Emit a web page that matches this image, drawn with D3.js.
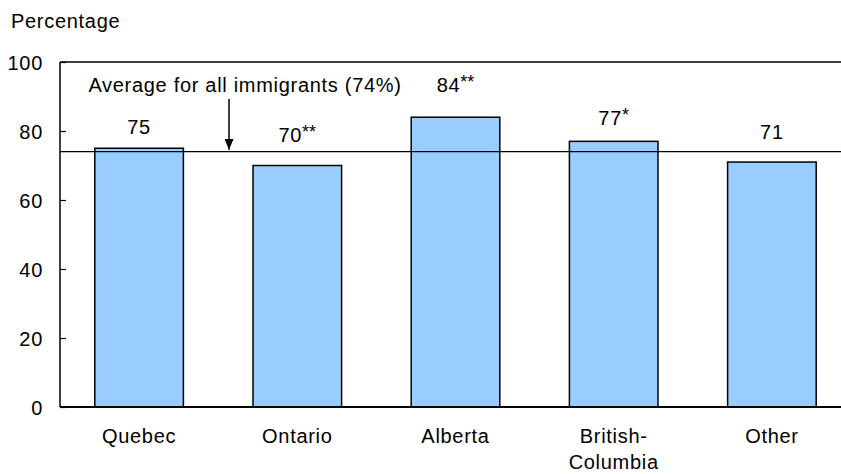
<!DOCTYPE html>
<html><head><meta charset="utf-8">
<script src="https://cdn.jsdelivr.net/npm/d3@7"></script>
<style>body{margin:0;background:#fff}svg{display:block;font-family:"Liberation Sans",Arial,sans-serif;letter-spacing:0.7px}</style>
</head><body>
<svg id="c" width="841" height="474"></svg>
<script>
const categories = [["Quebec"],["Ontario"],["Alberta"],["British-","Columbia"],["Other"]];
const values = [75, 70, 84, 77, 71];
const marks = ["", "**", "**", "*", ""];
const average = 74;
const averageLabel = "Average for all immigrants (74%)";
const yTicks = [0, 20, 40, 60, 80, 100];

(function(){
const svg = d3.select("#c");
const mL = 60, mT = 62, mB = 407, mR = 851;
const FS = 20;
const labelGap = [14, 24, 25, 16, 23]; // layout: vertical gap of each value label above its bar
const x = d3.scaleBand().domain(d3.range(categories.length)).range([mL, mR]).paddingInner(0.44).paddingOuter(0.22);
const y = d3.scaleLinear().domain([0, 100]).range([mB, mT]);

svg.append("text").attr("x", 11).attr("y", 28).attr("font-size", FS).text("Percentage");

// top border
svg.append("line").attr("x1", mL).attr("x2", 841).attr("y1", y(100)).attr("y2", y(100)).attr("stroke", "#000").attr("stroke-width", 1.5);

// bars
svg.selectAll("rect.bar").data(values).join("rect").attr("class", "bar")
  .attr("x", (d, i) => x(i)).attr("width", x.bandwidth())
  .attr("y", d => y(d)).attr("height", d => y(0) - y(d))
  .attr("fill", "#99CCFF").attr("stroke", "#000").attr("stroke-width", 1.5);

// average line
svg.append("line").attr("x1", mL).attr("x2", 841).attr("y1", y(average)).attr("y2", y(average)).attr("stroke", "#000").attr("stroke-width", 1.3);

// y axis
const ya = svg.append("g").attr("transform", `translate(${mL},0)`)
  .call(d3.axisLeft(y).tickValues(yTicks).tickSize(-6).tickPadding(17).tickFormat(d3.format("d")));
ya.select(".domain").attr("stroke-width", 1.5).attr("d", `M0,${mB}V${mT}`);
ya.selectAll("text").attr("font-size", FS).attr("font-family", "Liberation Sans, Arial, sans-serif").attr("fill", "#000").attr("dy", "0.35em");
ya.selectAll(".tick line").attr("stroke-width", 1.2);

// x axis
svg.append("line").attr("x1", mL).attr("x2", 841).attr("y1", mB).attr("y2", mB).attr("stroke", "#000").attr("stroke-width", 2);
const xl = svg.selectAll("text.xl").data(categories).join("text").attr("class", "xl")
  .attr("x", (d, i) => x(i) + x.bandwidth() / 2).attr("y", 443).attr("text-anchor", "middle").attr("font-size", FS);
xl.selectAll("tspan").data(d => d).join("tspan")
  .attr("x", function(){ return this.parentNode.getAttribute("x"); })
  .attr("dy", (d, j) => j === 0 ? 0 : 26).text(d => d);

// value labels
const vl = svg.selectAll("text.vl").data(values).join("text").attr("class", "vl")
  .attr("x", (d, i) => x(i) + x.bandwidth() / 2)
  .attr("y", (d, i) => y(d) - labelGap[i]).attr("text-anchor", "middle").attr("font-size", FS);
vl.append("tspan").text(d => d);
vl.append("tspan").attr("font-size", 18).attr("dy", -4).attr("letter-spacing", "0px").text((d, i) => marks[i]);

// annotation
svg.append("text").attr("x", 245).attr("y", 92).attr("text-anchor", "middle").attr("font-size", FS).text(averageLabel);
svg.append("defs").append("marker").attr("id", "ah").attr("viewBox", "0 0 10 12").attr("refX", 5).attr("refY", 12)
  .attr("markerUnits", "userSpaceOnUse").attr("markerWidth", 9).attr("markerHeight", 12).attr("orient", "0")
  .append("path").attr("d", "M0,0L5,12L10,0Z").attr("fill", "#000");
svg.append("line").attr("x1", 229).attr("x2", 229).attr("y1", 99).attr("y2", y(average) - 2)
  .attr("stroke", "#000").attr("stroke-width", 1.5).attr("marker-end", "url(#ah)");
})();
</script>
</body></html>
